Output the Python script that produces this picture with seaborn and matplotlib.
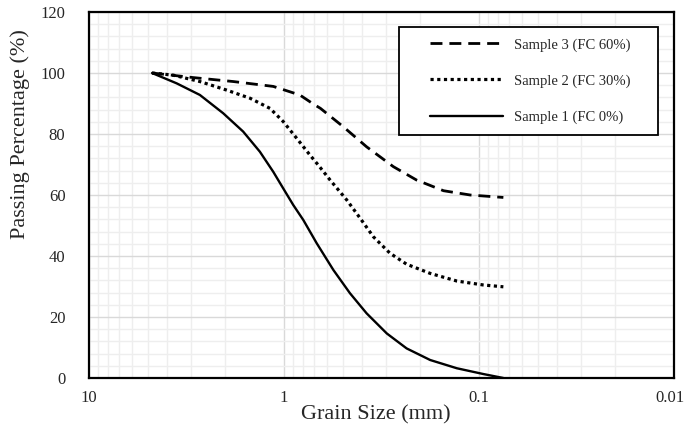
import matplotlib
matplotlib.use("Agg")
import matplotlib.pyplot as plt
import matplotlib.ticker as mticker
import matplotlib.transforms as mtransforms
from matplotlib.patches import Rectangle
import seaborn as sns
import pandas as pd
import numpy as np

# ---- data ----
s1_size = [4.75, 3.55, 2.70, 2.05, 1.62, 1.33, 1.135, 1.01, 0.896, 0.796, 0.68, 0.558,
           0.459, 0.377, 0.297, 0.235, 0.178, 0.130, 0.095, 0.075]
s1_pass = [100, 96.6, 92.8, 86.8, 80.8, 74.2, 67.6, 62.2, 56.7, 51.8, 44.2, 35.4,
           27.8, 21.2, 14.6, 9.7, 5.9, 3.2, 1.3, 0.0]

s2_size = [4.75, 3.70, 2.70, 1.97, 1.49, 1.18, 1.01, 0.861, 0.736, 0.667, 0.58, 0.477,
           0.407, 0.348, 0.286, 0.235, 0.178, 0.130, 0.095, 0.075]
s2_pass = [100, 99.3, 97.2, 94.4, 91.7, 88.4, 84.1, 78.6, 73.1, 69.8, 64.9, 58.4,
           52.4, 46.3, 40.9, 37.3, 34.3, 31.8, 30.5, 29.9]

s3_size = [4.75, 2.92, 1.82, 1.135, 0.83, 0.71, 0.65, 0.497, 0.377, 0.275, 0.209, 0.152,
           0.111, 0.075]
s3_pass = [100, 98.5, 97.2, 95.6, 92.8, 89.9, 88.4, 82.4, 75.8, 69.3, 64.9, 61.4,
           60.0, 59.2]

labels = ["Sample 1 (FC 0%)", "Sample 2 (FC 30%)", "Sample 3 (FC 60%)"]
x_ticks = [10, 1, 0.1, 0.01]
x_tick_labels = ["10", "1", "0.1", "0.01"]
y_ticks = [0, 20, 40, 60, 80, 100, 120]

sns.set_style("white")
plt.rcParams["font.family"] = ["Liberation Serif", "DejaVu Serif"]

fig = plt.figure(figsize=(6.87, 4.34), dpi=100)
ax = fig.add_axes([89/687, 1-378/434, (674-89)/687, (378-12)/434])

df1 = pd.DataFrame({"size": s1_size, "pass": s1_pass})
df2 = pd.DataFrame({"size": s2_size, "pass": s2_pass})
df3 = pd.DataFrame({"size": s3_size, "pass": s3_pass})

sns.lineplot(data=df1, x="size", y="pass", sort=False, ax=ax, color="black",
             linewidth=1.7, label=labels[0], zorder=3)
sns.lineplot(data=df2, x="size", y="pass", sort=False, ax=ax, color="black",
             linewidth=2.3, linestyle=(0, (1, 1.1)), label=labels[1], zorder=3,
             dash_capstyle="butt")
sns.lineplot(data=df3, x="size", y="pass", sort=False, ax=ax, color="black",
             linewidth=2.0, linestyle=(0, (4.3, 2.5)), label=labels[2], zorder=3,
             dash_capstyle="butt")

ax.set_xscale("log")
ax.set_xlim(10, 0.01)
ax.set_ylim(0, 120)
ax.set_xticks(x_ticks)
ax.set_xticklabels(x_tick_labels)
ax.xaxis.set_minor_locator(mticker.LogLocator(base=10, subs=np.arange(2, 10)))
ax.xaxis.set_minor_formatter(mticker.NullFormatter())
ax.set_yticks(y_ticks)
ax.yaxis.set_minor_locator(mticker.MultipleLocator(4))

ax.grid(which="minor", color="#eeeeee", linewidth=1.0, zorder=0)
ax.grid(which="major", color="#d9d9d9", linewidth=1.0, zorder=0)
ax.set_axisbelow(True)

ax.tick_params(which="both", length=0)
ax.tick_params(axis="x", labelsize=12, pad=9)
ax.tick_params(axis="y", labelsize=12, pad=17)

# nudge the last x tick label so it stays inside the canvas
last = ax.get_xticklabels()[-1]
last.set_transform(last.get_transform() +
                   mtransforms.ScaledTranslation(-4/100, 0, fig.dpi_scale_trans))

for sp in ax.spines.values():
    sp.set_visible(True)
    sp.set_color("black")
    sp.set_linewidth(1.6)

ax.set_xlabel("Grain Size (mm)", fontsize=16)
ax.set_ylabel("Passing Percentage (%)", fontsize=16)
ax.xaxis.set_label_coords(0.491, -0.075)
ax.yaxis.set_label_coords(-0.10, 0.667)

# legend box
rx0, rx1 = (399-89)/585, (658-89)/585
ry0, ry1 = (378-135)/366, (378-27)/366
ax.add_patch(Rectangle((rx0, ry0), rx1-rx0, ry1-ry0, transform=ax.transAxes,
                       facecolor="white", edgecolor="black", linewidth=1.3, zorder=4))
handles, labs = ax.get_legend_handles_labels()
order = [2, 1, 0]
leg = ax.legend([handles[i] for i in order], [labs[i] for i in order],
                loc="center", bbox_to_anchor=((rx0+rx1)/2 + 0.003, (ry0+ry1)/2),
                frameon=False, fontsize=10.5, handlelength=5.0, handletextpad=0.7,
                labelspacing=1.55, borderpad=0)
leg.set_zorder(5)

fig.savefig("out.png", dpi=100)
